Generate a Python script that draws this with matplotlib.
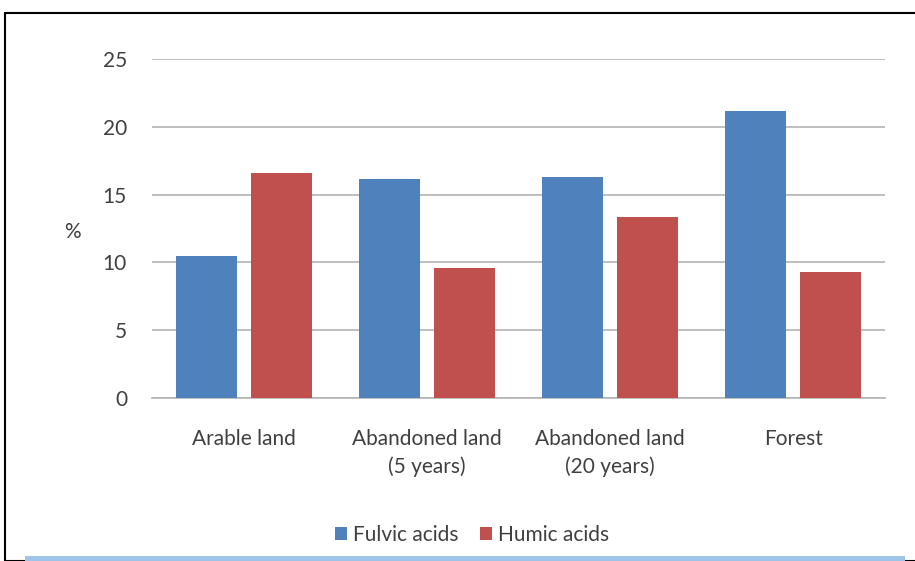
import matplotlib
matplotlib.use("Agg")
import matplotlib.pyplot as plt
import numpy as np
from matplotlib.patches import Rectangle

categories = ["Arable land", "Abandoned land\n(5 years)", "Abandoned land\n(20 years)", "Forest"]
fulvic = [10.5, 16.15, 16.3, 21.2]
humic = [16.6, 9.6, 13.35, 9.27]
yticks = [0, 5, 10, 15, 20, 25]

plt.rcParams['font.family'] = ['Lato', 'DejaVu Sans']

W, H = 915, 561
fig = plt.figure(figsize=(W/100, H/100), dpi=100)
ax = fig.add_axes([152/W, 1-398/H, (885-152)/W, (398-59)/H])

x = np.arange(len(categories))
bw = 0.333
off = 0.2045
ax.bar(x - off, fulvic, bw, color="#4F81BD", label="Fulvic acids", zorder=3)
ax.bar(x + off, humic, bw, color="#C0504D", label="Humic acids", zorder=3)

fs = 15
ax.set_xlim(-0.5, len(categories) - 0.5)
ax.set_ylim(0, 25)
ax.set_yticks(yticks)
ax.set_yticklabels([str(t) for t in yticks], fontsize=fs, color="#404040")
ax.set_xticks(x)
ax.set_xticklabels(categories, fontsize=fs, color="#404040", linespacing=1.45)
ax.tick_params(axis='y', length=0, pad=18)
ax.tick_params(axis='x', length=0, pad=22)
ax.grid(axis='y', color="#B4B4B4", linewidth=1.2, zorder=0)
for s in ["top", "right", "left"]:
    ax.spines[s].set_visible(False)
ax.spines["bottom"].set_color("#B4B4B4")
ax.spines["bottom"].set_linewidth(1.2)

fig.text(72/W, 1-232/H, "%", fontsize=fs, color="#404040", ha="center", va="center")

fig.legend(loc="center", bbox_to_anchor=(472/W, 1-535/H), ncol=2, frameon=False,
           fontsize=fs, handlelength=0.6, handleheight=0.6, handletextpad=0.3,
           columnspacing=1.0, labelcolor="#404040")

# figure frame
fig.patches.append(Rectangle((5/W, 0), 1.0, 1-13/H, transform=fig.transFigure,
                             fill=False, edgecolor="black", linewidth=1.5))
fig.patches.append(Rectangle((25/W, 0), (905-25)/W, 5/H, transform=fig.transFigure,
                             facecolor="#9DC3E6", edgecolor="none"))

fig.savefig("out.png", dpi=100)
